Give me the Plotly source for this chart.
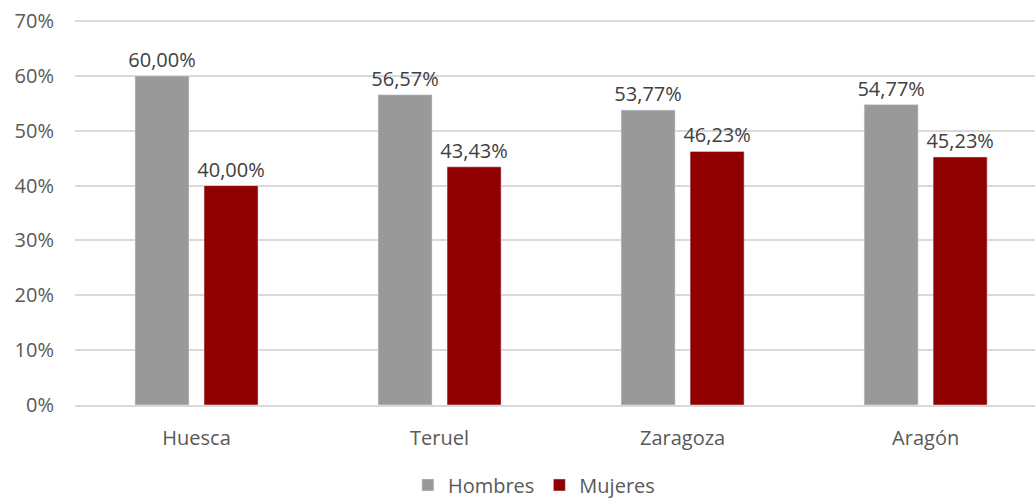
import plotly.graph_objects as go

categories = ["Huesca", "Teruel", "Zaragoza", "Aragón"]
hombres = [60.00, 56.57, 53.77, 54.77]
mujeres = [40.00, 43.43, 46.23, 45.23]
y_ticks = [0, 10, 20, 30, 40, 50, 60, 70]


def fmt(v):
    return f"{v:.2f}%".replace(".", ",")


font_family = "Open Sans, Lato, sans-serif"
label_font = dict(size=20, color="#404040")

fig = go.Figure()
fig.add_trace(go.Bar(x=categories, y=hombres, name="Hombres", marker_color="#999999",
                     text=[fmt(v) for v in hombres], textposition="outside",
                     textfont=label_font, constraintext="none", cliponaxis=False))
fig.add_trace(go.Bar(x=categories, y=mujeres, name="Mujeres", marker_color="#900000",
                     text=[fmt(v) for v in mujeres], textposition="outside",
                     textfont=label_font, constraintext="none", cliponaxis=False))

fig.update_layout(
    width=1035, height=501,
    margin=dict(l=75, r=0, t=20, b=96),
    plot_bgcolor="white", paper_bgcolor="white",
    font=dict(family=font_family, size=20, color="#595959"),
    barmode="group", bargap=0.432, bargroupgap=0.217,
    legend=dict(orientation="h", x=0.478, xanchor="center",
                yref="container", y=0.032, yanchor="middle",
                font=dict(size=20, color="#595959"), itemwidth=30,
                bgcolor="rgba(0,0,0,0)"),
)
# small headroom so the 70% gridline is drawn at the top edge
fig.update_yaxes(range=[0, 70.2], tickvals=y_ticks, ticktext=[f"{t}%" for t in y_ticks],
                 showgrid=True, gridcolor="#d9d9d9", gridwidth=1.5, zeroline=False,
                 ticks="", ticklabelstandoff=20, automargin=False)
fig.update_xaxes(range=[-0.5, 3.45], showline=True, linecolor="#d9d9d9", linewidth=2,
                 ticks="", ticklabelstandoff=14, automargin=False)

# drop the browser's default body margin so the figure sits at the page corner
fig.write_html("out.html", config={"displayModeBar": False},
               post_script="document.body.style.margin='0';")
